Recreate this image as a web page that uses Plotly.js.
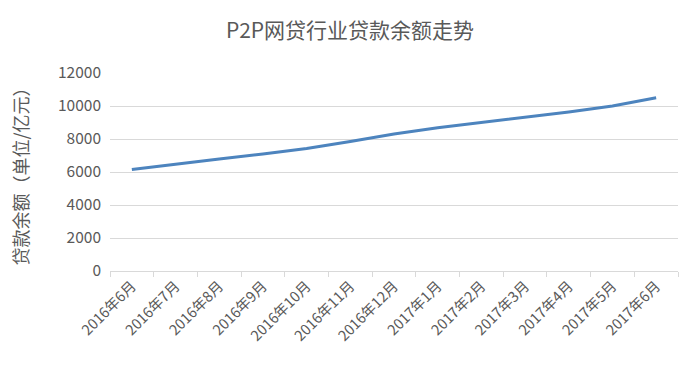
<!DOCTYPE html>
<html>
<head>
<meta charset="utf-8">
<script src="https://cdn.plot.ly/plotly-3.0.1.min.js"></script>
<style>
html,body{margin:0;padding:0;background:#fff;}
#chart{width:700px;height:365px;}
</style>
</head>
<body>
<div id="chart"></div>
<script>
const months = ["2016年6月","2016年7月","2016年8月","2016年9月","2016年10月","2016年11月","2016年12月","2017年1月","2017年2月","2017年3月","2017年4月","2017年5月","2017年6月"];
const balance = [6150, 6480, 6790, 7090, 7420, 7850, 8300, 8680, 9000, 9310, 9640, 10000, 10500];
const yTicks = [0, 2000, 4000, 6000, 8000, 10000, 12000];
const yTickText = ["0", "2000", "4000", "6000", "8000", "10000", "12000"];

const FONT = '"Noto Sans CJK SC", "Noto Sans", sans-serif';
const trace = {
  x: months,
  y: balance,
  type: 'scatter',
  mode: 'lines',
  line: {color: '#4d84be', width: 3},
  hoverinfo: 'skip'
};
const layout = {
  width: 700, height: 365,
  margin: {l: 110, r: 22, t: 73, b: 94},
  paper_bgcolor: '#ffffff',
  plot_bgcolor: '#ffffff',
  showlegend: false,
  font: {family: FONT, color: '#595959'},
  title: {text: 'P2P网贷行业贷款余额走势', x: 0.5, xanchor: 'center', y: 0.915, yanchor: 'middle',
          font: {family: FONT, size: 21, color: '#595959'}},
  xaxis: {
    type: 'category',
    range: [-0.5, months.length - 0.5],
    tickmode: 'array', tickvals: months, ticktext: months,
    tickson: 'boundaries',
    ticks: 'outside', ticklen: 5, tickcolor: '#d9d9d9',
    showline: true, linecolor: '#d9d9d9', linewidth: 1,
    showgrid: false, zeroline: false,
    tickangle: -45,
    tickfont: {family: FONT, size: 14.5, color: '#595959'},
    automargin: false
  },
  yaxis: {
    range: [0, 12000],
    tickmode: 'array', tickvals: yTicks, ticktext: yTickText,
    showgrid: true, gridcolor: '#d9d9d9', gridwidth: 1,
    zeroline: false, showline: false, ticks: '',
    tickfont: {family: FONT, size: 15.5, color: '#595959'},
    ticklabelstandoff: 8,
    title: {text: '贷款余额（单位/亿元）', standoff: 24, font: {family: FONT, size: 18, color: '#595959'}},
    automargin: false
  }
};
Plotly.newPlot('chart', [trace], layout, {displayModeBar: false, staticPlot: true});
</script>
</body>
</html>
